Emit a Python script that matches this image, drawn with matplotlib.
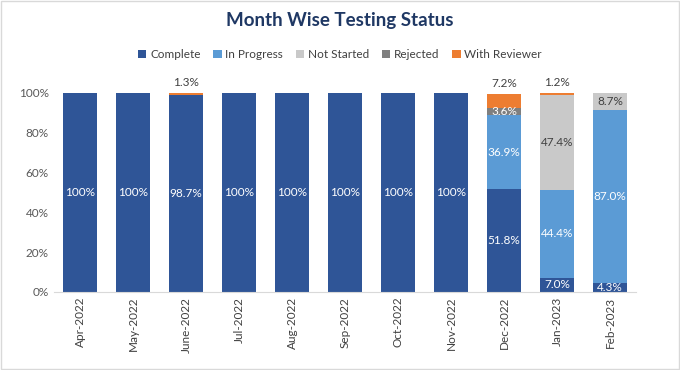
import matplotlib
matplotlib.use("Agg")
import matplotlib.pyplot as plt
from matplotlib.patches import Rectangle
import numpy as np

plt.rcParams["font.family"] = ["Lato", "DejaVu Sans"]

months = ["Apr-2022", "May-2022", "June-2022", "Jul-2022", "Aug-2022", "Sep-2022",
          "Oct-2022", "Nov-2022", "Dec-2022", "Jan-2023", "Feb-2023"]
complete = [100, 100, 98.7, 100, 100, 100, 100, 100, 51.8, 7.0, 4.3]
in_progress = [0, 0, 0, 0, 0, 0, 0, 0, 36.9, 44.4, 87.0]
not_started = [0, 0, 0, 0, 0, 0, 0, 0, 0, 47.4, 8.7]
rejected = [0, 0, 0, 0, 0, 0, 0, 0, 3.6, 0, 0]
with_reviewer = [0, 0, 1.3, 0, 0, 0, 0, 0, 7.2, 1.2, 0]

series = [
    ("Complete", complete, "#2F5597", "white", "center"),
    ("In Progress", in_progress, "#5B9BD5", "white", "center"),
    ("Not Started", not_started, "#C9C9C9", "#404040", "center"),
    ("Rejected", rejected, "#7F7F7F", "white", "center"),
    ("With Reviewer", with_reviewer, "#ED7D31", "#404040", "above"),
]

fig = plt.figure(figsize=(6.8, 3.7), dpi=100)
ax = fig.add_axes([0.079, 0.211, 0.857, 0.538])
fig.patches.append(Rectangle((0.002, 0.003), 0.996, 0.994, transform=fig.transFigure,
                             fill=False, edgecolor="#D9D9D9", linewidth=1))

x = np.arange(len(months))
bottom = np.zeros(len(months))
for name, vals, color, tcolor, pos in series:
    vals = np.array(vals, dtype=float)
    ax.bar(x, vals, 0.65, bottom=bottom, color=color, label=name, zorder=2)
    for i, v in enumerate(vals):
        if v <= 0:
            continue
        lab = "100%" if v == 100 else f"{v:.1f}%"
        if pos == "above":
            ax.text(x[i], bottom[i] + v + 2.5, lab, ha="center", va="bottom",
                    color=tcolor, fontsize=8.5)
        else:
            ax.text(x[i], bottom[i] + v / 2, lab, ha="center", va="center",
                    color=tcolor, fontsize=8.5)
    bottom += vals

ax.set_xlim(-0.5, len(months) - 0.5)
ax.set_ylim(0, 100)
ax.set_yticks(range(0, 101, 20))
ax.set_yticklabels([f"{v}%" for v in range(0, 101, 20)], color="#595959", fontsize=8.5)
ax.set_xticks(x)
ax.set_xticklabels(months, rotation=90, color="#404040", fontsize=8.5)
ax.tick_params(length=0)
for s in ["top", "right", "left"]:
    ax.spines[s].set_visible(False)
ax.spines["bottom"].set_color("#D9D9D9")

fig.text(0.5, 0.945, "Month Wise Testing Status", ha="center", va="center",
         fontsize=13.5, fontweight="bold", color="#1F3864")
fig.legend(loc="center", bbox_to_anchor=(0.5, 0.852), ncol=5, frameon=False,
           fontsize=8.5, handlelength=0.7, handleheight=0.7, columnspacing=1.1,
           handletextpad=0.3, labelcolor="#404040")

fig.savefig("out.png", dpi=100)
